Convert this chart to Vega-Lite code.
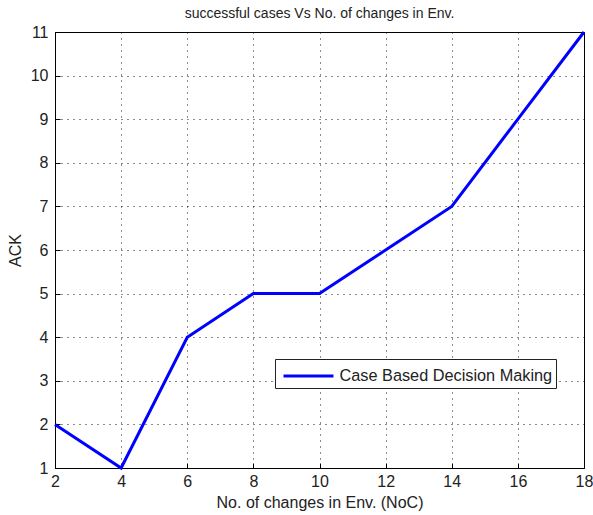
{
  "$schema": "https://vega.github.io/schema/vega-lite/v6.json",
  "width": 529,
  "height": 436,
  "autosize": {"type": "none"},
  "padding": {"left": 55, "top": 32, "right": 9, "bottom": 47},
  "background": "white",
  "config": {
    "font": "Liberation Sans",
    "view": {"stroke": "black", "strokeWidth": 1},
    "axis": {
      "grid": true,
      "gridColor": "black",
      "gridDash": [1, 5],
      "gridWidth": 1,
      "gridOpacity": 0.9,
      "domain": false,
      "ticks": true,
      "tickSize": -5,
      "tickColor": "black",
      "labelFontSize": 16,
      "labelColor": "#222",
      "titleFontSize": 16,
      "titleFontWeight": "normal",
      "titleColor": "#222"
    }
  },
  "title": {
    "text": "successful cases Vs No. of changes in Env.",
    "fontSize": 14,
    "fontWeight": "normal",
    "color": "#222",
    "offset": 3
  },
  "data": {
    "values": [
      {"noc": 2, "ack": 2, "series": "Case Based Decision Making"},
      {"noc": 4, "ack": 1, "series": "Case Based Decision Making"},
      {"noc": 6, "ack": 4, "series": "Case Based Decision Making"},
      {"noc": 8, "ack": 5, "series": "Case Based Decision Making"},
      {"noc": 10, "ack": 5, "series": "Case Based Decision Making"},
      {"noc": 12, "ack": 6, "series": "Case Based Decision Making"},
      {"noc": 14, "ack": 7, "series": "Case Based Decision Making"},
      {"noc": 16, "ack": 9, "series": "Case Based Decision Making"},
      {"noc": 18, "ack": 11, "series": "Case Based Decision Making"}
    ]
  },
  "mark": {"type": "line", "strokeWidth": 3},
  "encoding": {
    "x": {
      "field": "noc",
      "type": "quantitative",
      "scale": {"domain": [2, 18], "nice": false, "zero": false},
      "axis": {"values": [2, 4, 6, 8, 10, 12, 14, 16, 18], "title": "No. of changes in Env. (NoC)", "labelPadding": 10, "titlePadding": 5, "labelFlush": false}
    },
    "y": {
      "field": "ack",
      "type": "quantitative",
      "scale": {"domain": [1, 11], "nice": false, "zero": false},
      "axis": {"values": [1, 2, 3, 4, 5, 6, 7, 8, 9, 10, 11], "title": "ACK", "labelPadding": 12, "titlePadding": 7, "labelFlush": false}
    },
    "color": {
      "field": "series",
      "type": "nominal",
      "scale": {"range": ["#0000ff"]},
      "legend": {
        "title": null,
        "orient": "none",
        "legendX": 220,
        "legendY": 327,
        "symbolType": "M-2,0H2",
        "symbolStrokeWidth": 3,
        "symbolSize": 625,
        "symbolOffset": 16.5,
        "labelFontSize": 16.3,
        "labelLimit": 400,
        "labelColor": "#222",
        "strokeColor": "#222",
        "fillColor": "white",
        "padding": 3,
        "labelOffset": 17
      }
    }
  }
}
